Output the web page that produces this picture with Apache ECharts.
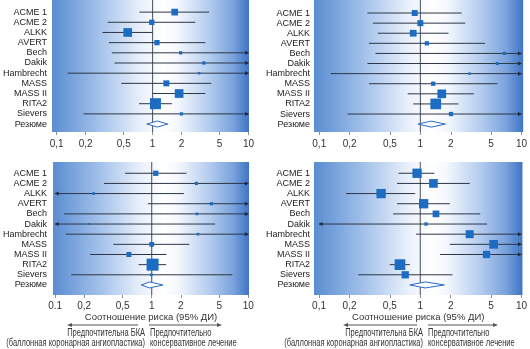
<!DOCTYPE html>
<html><head><meta charset="utf-8">
<script src="https://cdn.jsdelivr.net/npm/echarts@6/dist/echarts.min.js"></script>
<style>html,body{margin:0;padding:0;background:#fff}#c{width:530px;height:349px}</style>
</head><body><div id="c"></div>
<script>
// ---------- data ----------
const studies = ['ACME 1','ACME 2','ALKK','AVERT','Bech','Dakik','Hambrecht','MASS','MASS II','RITA2','Sievers','Резюме'];
const tickVals = [0.1, 0.2, 0.5, 1, 2, 5, 10];
const tickLabelsComma = ['0,1','0,2','0,5','1','2','5','10'];
const tickLabelsBL = ['0.1','0,2','0,5','1','2','5','10'];
const axisTitle = 'Соотношение риска (95% ДИ)';
const leftNote1 = 'Предпочтительна БКА';
const leftNote2 = '(баллонная коронарная ангиопластика)';
const rightNote1 = 'Предпочтительно';
const rightNote2 = 'консервативное лечение';

// panel 1 (top-left)
const p1Est = [1.70, 0.98, 0.55, 1.11, 1.96, 3.42, 3.05, 1.39, 1.89, 1.07, 2.00, 1.12];
const p1Lo  = [0.73, 0.34, 0.30, 0.35, 0.375, 0.40, 0.13, 0.47, 1.00, 0.72, 0.19, 0.87];
const p1Hi  = [3.88, 2.79, 1.00, 3.55, 10, 10, 10, 4.10, 3.55, 1.59, 10, 1.44];
const p1W   = [9.3, 5.8, 15.6, 5.8, 2.2, 2.2, 1.3, 7.4, 15.6, 25, 2.2];
// panel 2 (top-right)
const p2Est = [0.88, 1.00, 0.85, 1.16, 6.8, 5.77, 3.07, 1.34, 1.63, 1.42, 2.01, 1.28];
const p2Lo  = [0.30, 0.34, 0.38, 0.31, 0.36, 0.30, 0.13, 0.31, 0.75, 0.85, 0.19, 0.95];
const p2Hi  = [2.56, 2.78, 1.90, 4.37, 10, 10, 10, 5.8, 3.38, 2.38, 10, 1.77];
const p2W   = [7.4, 7.4, 9.3, 3.8, 2.2, 1.9, 1.3, 3.8, 15.6, 23.6, 3.8];
// panel 3 (bottom-left)
const p3Est = [1.10, 2.90, 0.25, 4.15, 2.94, 0.225, 3.01, 1.00, 0.58, 1.02, 0.99, 0.95];
const p3Lo  = [0.53, 0.32, 0.10, 0.91, 0.124, 0.10, 0.129, 0.40, 0.23, 0.73, 0.147, 0.78];
const p3Hi  = [2.29, 10, 2.15, 10, 10, 4.54, 10, 2.45, 1.42, 1.41, 6.84, 1.31];
const p3W   = [5.8, 2.2, 1.5, 2.2, 1.5, 0.5, 1.5, 4.6, 5.2, 29.8, 1.5];
// panel 4 (bottom-right)
const p4Est = [0.93, 1.35, 0.41, 1.08, 1.43, 1.14, 3.08, 5.32, 4.52, 0.63, 0.71, 1.12];
const p4Lo  = [0.61, 0.59, 0.185, 0.59, 0.54, 0.10, 0.91, 1.96, 1.57, 0.50, 0.244, 0.79];
const p4Hi  = [1.38, 3.08, 0.89, 1.96, 3.92, 4.58, 10, 10, 10, 0.79, 2.08, 1.73];
const p4W   = [17.9, 15.6, 17.9, 17.9, 9.3, 2.2, 13.2, 15.6, 11.0, 23.6, 11.0];

// ---------- layout ----------
const FONT = "'Liberation Sans','Arial',sans-serif";
const panels = [
  {est:p1Est, lo:p1Lo, hi:p1Hi, w:p1W, labels:tickLabelsComma, grid:{left:39, top:0, width:210, height:132}, xr:[-1.049, 1.005], yr:[-1.19, 11.78], lblM:5, tickM:7, title:false},
  {est:p2Est, lo:p2Lo, hi:p2Hi, w:p2W, labels:tickLabelsComma, grid:{left:314, top:0, width:211, height:132}, xr:[-1.052, 1.017], yr:[-1.29, 11.78], lblM:4, tickM:7, title:false},
  {est:p3Est, lo:p3Lo, hi:p3Hi, w:p3W, labels:tickLabelsBL, grid:{left:40, top:162, width:209, height:133}, xr:[-1.022, 1.007], yr:[-1.11, 11.99], lblM:6, tickM:6, title:true},
  {est:p4Est, lo:p4Lo, hi:p4Hi, w:p4W, labels:tickLabelsComma, grid:{left:314, top:162, width:211, height:133}, xr:[-1.05, 1.01], yr:[-1.11, 11.99], lblM:4, tickM:6, title:true}
];

const bg = () => new echarts.graphic.LinearGradient(0, 0, 1, 0, [
  {offset:0, color:'#5a8cd1'},
  {offset:0.22, color:'#9dbde8'},
  {offset:0.45, color:'#e9f0fb'},
  {offset:0.56, color:'#ffffff'},
  {offset:0.64, color:'#f3f7fd'},
  {offset:0.8, color:'#b3cbee'},
  {offset:0.92, color:'#7aa2dc'},
  {offset:1, color:'#3f74c6'}
]);

const LINE = '#2c3647';
const SQ = '#1b6cc2';

function renderItem(params, api) {
  const row = api.value(0), e = api.value(1), l = api.value(2), h = api.value(3), w = api.value(4);
  const pe = api.coord([e, row]), pl = api.coord([l, row]), ph = api.coord([h, row]);
  const y = pe[1];
  const children = [];
  if (row === 11) {
    children.push({type:'polygon', shape:{points:[[pl[0], y], [pe[0], y-3], [ph[0], y], [pe[0], y+3]]},
      style:{fill:'#ffffff', stroke:'#2a6cc0', lineWidth:1}});
    return {type:'group', children};
  }
  children.push({type:'line', shape:{x1:pl[0], y1:y, x2:ph[0], y2:y}, style:{stroke:LINE, lineWidth:1}});
  if (h >= 0.999) {
    const x = ph[0];
    children.push({type:'polygon', shape:{points:[[x-3.5, y-2], [x+0.5, y], [x-3.5, y+2]]}, style:{fill:'#1f2a3a'}});
  }
  if (l <= -0.999) {
    const x = pl[0];
    children.push({type:'polygon', shape:{points:[[x+3.5, y-2], [x-0.5, y], [x+3.5, y+2]]}, style:{fill:'#1f2a3a'}});
  }
  const s = Math.max(2, 2.2 * Math.sqrt(w));
  children.push({type:'rect', shape:{x:pe[0]-s/2, y:y-s/2, width:s, height:s}, style:{fill:SQ}});
  return {type:'group', children};
}

const option = {animation:false, grid:[], xAxis:[], yAxis:[], series:[], graphic:[]};
const tickLogs = tickVals.map(v => Math.log10(v));

panels.forEach((p, k) => {
  option.grid.push(Object.assign({show:true, borderWidth:0, backgroundColor:bg(), containLabel:false}, p.grid));
  const labs = p.labels;
  option.xAxis.push({
    type:'value', gridIndex:k, min:p.xr[0], max:p.xr[1], position:'bottom',
    axisLine:{show:false, onZero:false}, splitLine:{show:false},
    axisTick:{show:true, customValues:tickLogs, length:3, lineStyle:{color:'#8a8f98'}},
    axisLabel:{customValues:tickLogs, margin:p.tickM, fontFamily:FONT, fontSize:10, color:'#333',
      formatter:(v) => { let bi=0, bd=1e9; tickLogs.forEach((t,i)=>{const d=Math.abs(t-v); if(d<bd){bd=d;bi=i;}}); return labs[bi]; }},
    name: p.title ? axisTitle : '', nameLocation:'middle', nameGap:17,
    nameTextStyle:{fontFamily:FONT, fontSize:9.5, color:'#333'}
  });
  option.yAxis.push({
    type:'value', gridIndex:k, inverse:true, min:p.yr[0], max:p.yr[1], position:'left',
    axisLine:{show:false, onZero:false}, splitLine:{show:false}, axisTick:{show:false},
    axisLabel:{customValues:studies.map((_, i) => i), margin:p.lblM, fontFamily:FONT, fontSize:9, color:'#222',
      formatter:(v) => studies[Math.round(v)] || ''}
  });
  option.series.push({
    type:'line', xAxisIndex:k, yAxisIndex:k, silent:true, showSymbol:false, z:1,
    data:[[0, p.yr[0]], [0, p.yr[1]]], lineStyle:{color:'#4a4f57', width:1}
  });
  const data = studies.map((_, i) => [i, Math.log10(p.est[i]), Math.log10(p.lo[i]), Math.log10(p.hi[i]), i < 11 ? p.w[i] : 0]);
  option.series.push({
    type:'custom', xAxisIndex:k, yAxisIndex:k, renderItem, z:3, silent:true,
    encode:{x:[1,2,3], y:0}, data
  });
});

// arrows and notes below bottom panels
function notes(c, lx0, lx1, rx0, rx1) {
  const ay = 325;
  const st = {stroke:'#555', lineWidth:1};
  const tf = (text, x, y, align) => ({type:'text', x, y, scaleX:0.75,
    style:{text, align, verticalAlign:'middle', font:"10px "+FONT, fill:'#333'}});
  option.graphic.push(
    {type:'line', shape:{x1:lx1, y1:ay, x2:lx0+3, y2:ay}, style:st},
    {type:'polygon', shape:{points:[[lx0, ay], [lx0+5, ay-2], [lx0+5, ay+2]]}, style:{fill:'#555'}},
    {type:'line', shape:{x1:rx0, y1:ay, x2:rx1-3, y2:ay}, style:st},
    {type:'polygon', shape:{points:[[rx1, ay], [rx1-5, ay-2], [rx1-5, ay+2]]}, style:{fill:'#555'}},
    tf(leftNote1, c-2, 333, 'right'),
    tf(leftNote2, c-2, 343, 'right'),
    tf(rightNote1, c+3, 333, 'left'),
    tf(rightNote2, c+3, 343, 'left')
  );
}
notes(147, 67, 138, 149, 222);
notes(425, 343, 417, 428, 498);

const chart = echarts.init(document.getElementById('c'), null, {renderer:'canvas'});
chart.setOption(option);
</script></body></html>
